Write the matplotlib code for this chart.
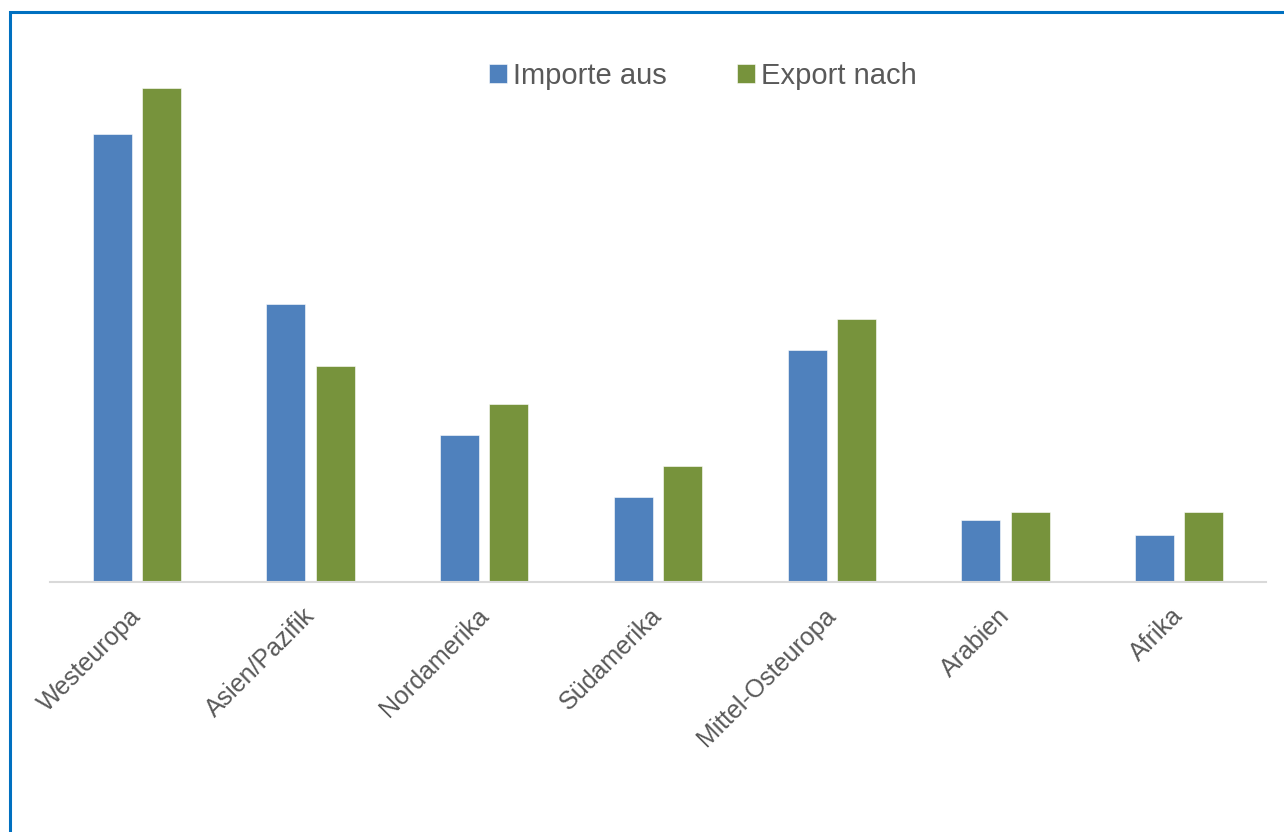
import matplotlib
matplotlib.use("Agg")
import matplotlib.pyplot as plt
import matplotlib.transforms as mtransforms
import numpy as np
from matplotlib.patches import Rectangle

categories = ["Westeuropa", "Asien/Pazifik", "Nordamerika", "Südamerika",
              "Mittel-Osteuropa", "Arabien", "Afrika"]
importe = [29.0, 18.0, 9.5, 5.5, 15.0, 4.0, 3.0]
export = [32.0, 14.0, 11.5, 7.5, 17.0, 4.5, 4.5]

plt.rcParams['font.family'] = ['Liberation Sans', 'DejaVu Sans']

W, H = 1284, 832
fig = plt.figure(figsize=(W/100, H/100), dpi=100)

ax_left, ax_right = 50, 1266
ax_top, ax_bottom = 42, 581.5
ax = fig.add_axes([ax_left/W, 1-ax_bottom/H, (ax_right-ax_left)/W, (ax_bottom-ax_top)/H])

x = np.arange(len(categories))
bw = 0.224
off = 0.142
b1 = ax.bar(x - off, importe, bw, color='#4f81bd', edgecolor='white', linewidth=0.4, label='Importe aus')
b2 = ax.bar(x + off, export, bw, color='#77933c', edgecolor='white', linewidth=0.4, label='Export nach')

ax.set_xlim(-0.5, len(categories)-0.5)
ax.set_ylim(0, 35)
for s in ['top', 'right', 'left']:
    ax.spines[s].set_visible(False)
ax.spines['bottom'].set_color('#d9d9d9')
ax.spines['bottom'].set_linewidth(1.5)
ax.set_yticks([])
ax.set_xticks(x)
ax.set_xticklabels(categories, rotation=45, ha='right', va='top', rotation_mode='anchor',
                   fontsize=18, color='#595959')
ax.tick_params(axis='x', length=0, pad=16)
shift = mtransforms.ScaledTranslation(-0.08, 0, fig.dpi_scale_trans)
for lab in ax.get_xticklabels():
    lab.set_transform(lab.get_transform() + shift)

leg = fig.legend(handles=[b1, b2], labels=['Importe aus', 'Export nach'], ncol=2,
                 loc='center', bbox_to_anchor=(703/W, 1-76/H), frameon=False,
                 fontsize=21, handlelength=0.62, handleheight=0.62, handletextpad=0.2,
                 columnspacing=2.4, labelcolor='#595959')

frame = Rectangle((9.5/W, -0.1), 1.2, 1 - 12/H + 0.1, transform=fig.transFigure,
                  fill=False, edgecolor='#0070c0', linewidth=2.2, zorder=10)
fig.patches.append(frame)

fig.savefig('out.png', dpi=100)
